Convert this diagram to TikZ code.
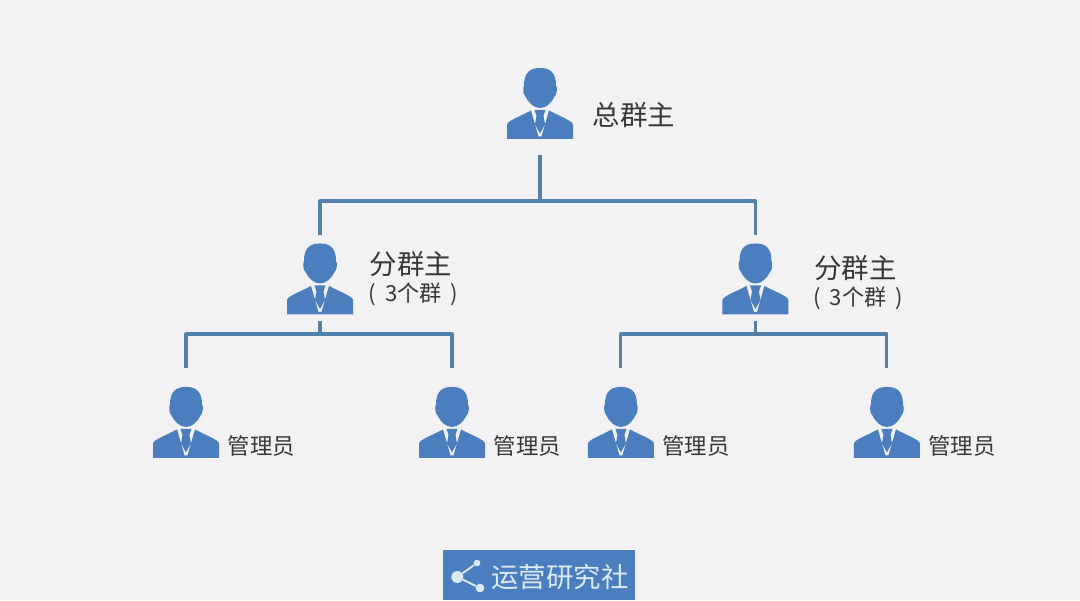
\documentclass[tikz,border=0pt]{standalone}
\usepackage{fontspec}
\usepackage{xcolor}
\setmainfont{Noto Sans CJK SC}
\usetikzlibrary{positioning,calc}
\definecolor{PageGray}{HTML}{F2F2F4}
\definecolor{IconBlue}{HTML}{4A7EBF}
\definecolor{LineBlue}{HTML}{5280A8}
\definecolor{InkGray}{HTML}{383838}
\definecolor{LogoPale}{HTML}{DCEAF7}
\begin{document}
\begin{tikzpicture}[
  person/.style={inner sep=0pt,outer sep=0pt,minimum width=54pt,minimum height=57.75pt,path picture={
    \begin{scope}[shift={(path picture bounding box.center)},x=.75pt,y=-.75pt]
      \fill[IconBlue] (0,-35.5) .. controls (10,-35.5) and (16,-31) .. (16,-18) .. controls (17.5,-16) and (17,-9) .. (14.5,-7) .. controls (11,0) and (6,4.5) .. (0,4.5) .. controls (-6,4.5) and (-11,0) .. (-14.5,-7) .. controls (-17,-9) and (-17.5,-16) .. (-16,-18) .. controls (-16,-31) and (-10,-35.5) .. (0,-35.5) -- cycle;
      \fill[IconBlue] (-33,35.5) -- (-33,21) .. controls (-32,17) and (-20,13) .. (-9,7) -- (-1.5,33) -- (1.5,33) -- (9,7) .. controls (20,13) and (32,17) .. (33,21) -- (33,35.5) -- cycle;
      \fill[IconBlue] (-5.5,6.5) -- (5.5,6.5) -- (3.5,12.5) -- (5,21) -- (0,30) -- (-5,21) -- (-3.5,12.5) -- cycle;
    \end{scope}}},
  conn/.style={draw=LineBlue,line width=2.3pt,line join=round},
  bigtext/.style={inner sep=0pt,text=InkGray,font=\fontsize{20.6pt}{22pt}\selectfont},
  subtext/.style={inner sep=0pt,text=InkGray,font=\fontsize{16.6pt}{18pt}\selectfont},
  smalltext/.style={inner sep=0pt,text=InkGray,font=\fontsize{16.8pt}{20pt}\selectfont},
  dot/.style={circle,fill=LogoPale,inner sep=0pt}
]
\fill[PageGray] (0,0) rectangle (810pt,-450pt);
% people
\node[person] (zong) at (405pt,-77.6pt) {};
\node[person,on grid,below left=131.6pt and 165pt of zong] (fenL) {};
\node[person,on grid,below right=131.6pt and 161.6pt of zong] (fenR) {};
\node[person,on grid,below left=107.6pt and 100.5pt of fenL] (admA) {};
\node[person,on grid,below right=107.6pt and 99pt of fenL] (admB) {};
\node[person,on grid,below left=107.6pt and 100.9pt of fenR] (admC) {};
\node[person,on grid,below right=107.6pt and 98.6pt of fenR] (admD) {};
% labels
\node[bigtext,right=12.5pt of zong,yshift=-8.6pt] (zongText) {总群主};
\node[bigtext,right=10.2pt of fenL,yshift=11.3pt] (fenLText) {分群主};
\node[subtext,right=9.5pt of fenL,yshift=-11.5pt] (fenLSub) {(\hspace{6.5pt}3个群\hspace{6.5pt})};
\node[bigtext,right=17pt of fenR,yshift=8.3pt] (fenRText) {分群主};
\node[subtext,right=16.5pt of fenR,yshift=-14.5pt] (fenRSub) {(\hspace{6.5pt}3个群\hspace{6.5pt})};
\foreach \who in {admA,admB,admC,admD}
  \node[smalltext,right=4pt of \who,yshift=-17.6pt] (\who Text) {管理员};
% connectors
\coordinate[below=44.25pt of zong] (topBus);
\coordinate[below=12.4pt of fenL] (busL);
\coordinate[below=12.4pt of fenR] (busR);
\draw[conn] ([yshift=-9.75pt]zong.south) -- (topBus);
\draw[conn] ([yshift=4.1pt]fenL.north) |- (topBus);
\draw[conn] ([yshift=4.1pt]fenR.north) |- (topBus);
\draw[conn] ([yshift=-3pt]fenL.south) -- (busL);
\draw[conn] ([yshift=12pt]admA.north) |- (busL);
\draw[conn] ([yshift=12pt]admB.north) |- (busL);
\draw[conn] ([yshift=-3pt]fenR.south) -- (busR);
\draw[conn] ([yshift=12pt]admC.north) |- (busR);
\draw[conn] ([yshift=12pt]admD.north) |- (busR);
% logo
\fill[IconBlue] (332.25pt,-412.5pt) rectangle (476.25pt,-450pt);
\node[dot,minimum size=9pt] (hub) at (343pt,-432.75pt) {};
\node[dot,minimum size=5pt] (tipA) at (357.75pt,-422.25pt) {};
\node[dot,minimum size=6.5pt] (tipB) at (360pt,-441pt) {};
\draw[LogoPale,line width=1.4pt] (hub) -- (tipA);
\draw[LogoPale,line width=1.4pt] (hub) -- (tipB);
\node[inner sep=0pt,text=LogoPale,font=\fontsize{20.6pt}{22pt}\selectfont] (logoText) at (420pt,-432.75pt) {运营研究社};
\end{tikzpicture}
\end{document}
